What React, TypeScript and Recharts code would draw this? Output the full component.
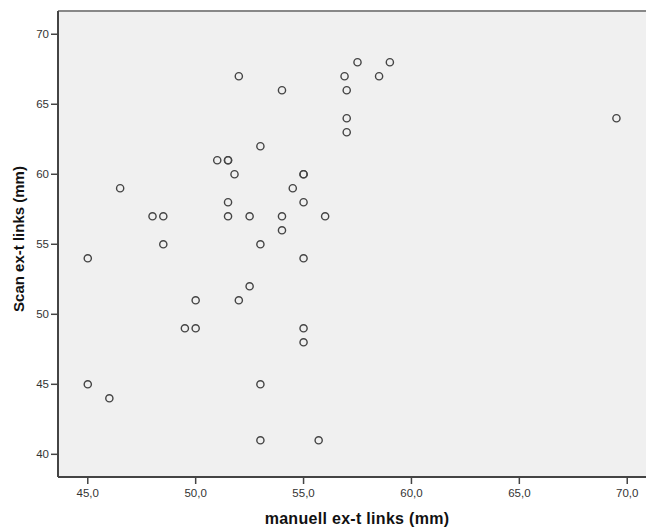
import React from "react";
import {
  CartesianGrid,
  ReferenceLine,
  Scatter,
  ScatterChart,
  XAxis,
  YAxis
} from "recharts";

// manuell ex-t links (mm)
const manualValues = [
  52, 54, 53, 51, 51.5, 51.5, 51.8, 55, 55, 46.5, 54.5, 51.5, 55, 48, 48.5,
  51.5, 52.5, 54, 56, 54, 48.5, 53, 45, 55, 57.5, 59, 56.9, 58.5, 57, 57, 57,
  69.5, 52.5, 50, 52, 49.5, 50, 55, 55, 45, 46, 53, 53, 55.7
];

// Scan ex-t links (mm)
const scanValues = [
  67, 66, 62, 61, 61, 61, 60, 60, 60, 59, 59, 58, 58, 57, 57,
  57, 57, 57, 57, 56, 55, 55, 54, 54, 68, 68, 67, 67, 66, 64, 63,
  64, 52, 51, 51, 49, 49, 49, 48, 45, 44, 45, 41, 41
];

const xTicks = [45, 50, 55, 60, 65, 70];
const yTicks = [40, 45, 50, 55, 60, 65, 70];

const xDomain: [number, number] = [43.62, 70.87];
const yDomain: [number, number] = [38.38, 71.66];

const points = manualValues.map((m, i) => ({ manual: m, scan: scanValues[i] }));

const font = "'Liberation Sans', Arial, sans-serif";

function Ring(props: any) {
  const { cx, cy } = props;
  return (
    <circle cx={cx} cy={cy} r={3.6} fill="none" stroke="#444" strokeWidth={1.4} />
  );
}

export default function App() {
  return (
    <div style={{ position: "absolute", left: 0, top: 0, fontFamily: font }}>
      <ScatterChart
        width={646}
        height={528}
        margin={{ top: 11, right: 0, bottom: 0, left: 0 }}
      >
        <CartesianGrid
          horizontal={false}
          vertical={false}
          fill="#f0f0f0"
          stroke="none"
        />
        <XAxis
          type="number"
          dataKey="manual"
          domain={xDomain}
          ticks={xTicks}
          allowDataOverflow
          height={51}
          tickSize={7}
          tickMargin={5}
          tickFormatter={(v: number) => v.toFixed(1).replace(".", ",")}
          tick={{ fill: "#333", fontSize: 11.5, fontFamily: font }}
          axisLine={{ stroke: "#444", strokeWidth: 2 }}
          tickLine={{ stroke: "#444", strokeWidth: 1.5 }}
          label={{
            value: "manuell ex-t links (mm)",
            position: "insideBottom",
            offset: 4,
            dx: 5,
            style: {
              fontSize: 16,
              fontWeight: "bold",
              fill: "#111",
              fontFamily: font,
              letterSpacing: 0.3
            }
          }}
        />
        <YAxis
          type="number"
          dataKey="scan"
          domain={yDomain}
          ticks={yTicks}
          allowDataOverflow
          width={58}
          tickSize={7}
          tickMargin={2}
          tick={{ fill: "#333", fontSize: 11.5, fontFamily: font }}
          axisLine={{ stroke: "#444", strokeWidth: 2 }}
          tickLine={{ stroke: "#444", strokeWidth: 1.5 }}
          label={{
            value: "Scan ex-t links (mm)",
            angle: -90,
            position: "insideLeft",
            offset: 19,
            dy: -5,
            style: {
              fontSize: 15,
              fontWeight: "bold",
              fill: "#111",
              fontFamily: font,
              textAnchor: "middle"
            }
          }}
        />
        <ReferenceLine y={yDomain[1]} stroke="#888" strokeWidth={2} />
        <Scatter data={points} shape={Ring} isAnimationActive={false} />
      </ScatterChart>
    </div>
  );
}
